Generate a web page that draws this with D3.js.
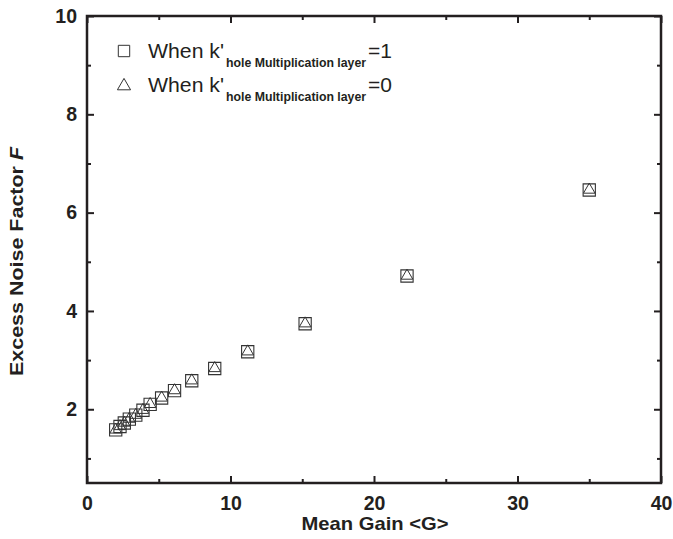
<!DOCTYPE html>
<html>
<head>
<meta charset="utf-8">
<script src="https://cdn.jsdelivr.net/npm/d3@7"></script>
<style>
  body { margin: 0; background: #fff; }
  text { font-family: Arial, "Liberation Sans", sans-serif; }
</style>
</head>
<body>
<div class="chart"></div>
<script>
var svgWidth = 673;
var svgHeight = 539;

var margin = {top: 16, right: 12, bottom: 56, left: 87};

var width = svgWidth - margin.left - margin.right;
var height = svgHeight - margin.top - margin.bottom;

// data
var gain = [2.0, 2.3, 2.6, 2.95, 3.4, 3.9, 4.4, 5.2, 6.1, 7.3, 8.9, 11.2, 15.2, 22.3, 35.0];
var fK1 = [1.58, 1.65, 1.72, 1.80, 1.88, 1.98, 2.10, 2.23, 2.38, 2.58, 2.83, 3.17, 3.74, 4.71, 6.46];
var fK0 = [1.60, 1.67, 1.74, 1.82, 1.90, 2.00, 2.12, 2.25, 2.40, 2.60, 2.85, 3.19, 3.76, 4.73, 6.48];
var xTicks = [0, 10, 20, 30, 40];
var yTicks = [2, 4, 6, 8, 10];
var legendLabels = ['=1', '=0'];

var svg = d3
  .select('.chart')
  .append('svg')
  .attr('width', svgWidth)
  .attr('height', svgHeight)
  .append('g')
  .attr('transform', 'translate(' + margin.left + ',' + margin.top + ')');

var x = d3.scaleLinear().domain([0, 40]).range([0, width]);
var y = d3.scaleLinear().domain([0.5, 10]).range([height, 0]);

var axisColor = '#231f20';

function styleAxis(g) {
  g.select('.domain').remove();
  g.selectAll('line').attr('stroke', axisColor).attr('stroke-width', 2);
  g.selectAll('text')
    .attr('fill', axisColor)
    .style('font-size', '19.5px')
    .style('font-weight', 'bold');
}

// major + minor ticks, pointing inward
var xMinor = d3.range(5, 40, 10);
var yMinor = d3.range(1, 10, 2);

svg.append('g')
  .attr('transform', 'translate(0,' + height + ')')
  .call(d3.axisBottom(x).tickValues(xTicks).tickSize(-7).tickPadding(13))
  .call(styleAxis);
svg.append('g')
  .attr('transform', 'translate(0,' + height + ')')
  .call(d3.axisBottom(x).tickValues(xMinor).tickSize(-4).tickFormat(''))
  .call(styleAxis);
svg.append('g')
  .call(d3.axisTop(x).tickValues(xTicks).tickSize(-7).tickFormat(''))
  .call(styleAxis);
svg.append('g')
  .call(d3.axisTop(x).tickValues(xMinor).tickSize(-4).tickFormat(''))
  .call(styleAxis);

svg.append('g')
  .call(d3.axisLeft(y).tickValues(yTicks).tickSize(-7).tickPadding(10))
  .call(styleAxis);
svg.append('g')
  .call(d3.axisLeft(y).tickValues(yMinor).tickSize(-4).tickFormat(''))
  .call(styleAxis);
svg.append('g')
  .attr('transform', 'translate(' + width + ',0)')
  .call(d3.axisRight(y).tickValues(yTicks).tickSize(-7).tickFormat(''))
  .call(styleAxis);
svg.append('g')
  .attr('transform', 'translate(' + width + ',0)')
  .call(d3.axisRight(y).tickValues(yMinor).tickSize(-4).tickFormat(''))
  .call(styleAxis);

// frame
svg.append('rect')
  .attr('x', 0)
  .attr('y', 0)
  .attr('width', width)
  .attr('height', height)
  .attr('fill', 'none')
  .attr('stroke', axisColor)
  .attr('stroke-width', 2.5);

var sq = d3.symbol().type(d3.symbolSquare).size(150);
var tri = d3.symbol().type(d3.symbolTriangle).size(58);

var pts = svg.append('g');

pts.selectAll('.sq')
  .data(gain)
  .enter()
  .append('path')
  .attr('class', 'sq')
  .attr('d', sq)
  .attr('transform', function(d, i) {
    return 'translate(' + x(d) + ',' + y(fK1[i]) + ')';
  })
  .attr('fill', 'none')
  .attr('stroke', '#333')
  .attr('stroke-width', 1.1);

pts.selectAll('.tri')
  .data(gain)
  .enter()
  .append('path')
  .attr('class', 'tri')
  .attr('d', tri)
  .attr('transform', function(d, i) {
    return 'translate(' + x(d) + ',' + (y(fK0[i]) + 0.8) + ')';
  })
  .attr('fill', 'none')
  .attr('stroke', '#333')
  .attr('stroke-width', 1);

// legend
var legend = svg.append('g').attr('transform', 'translate(37,35)');
var legendRows = legend.selectAll('g')
  .data(legendLabels)
  .enter()
  .append('g')
  .attr('transform', function(d, i) {
    return 'translate(0,' + i * 34 + ')';
  });

legendRows.append('path')
  .attr('d', function(d, i) {
    return i === 0 ? d3.symbol().type(d3.symbolSquare).size(130)() : d3.symbol().type(d3.symbolTriangle).size(75)();
  })
  .attr('transform', function(d, i) {
    return i === 0 ? 'translate(0,0)' : 'translate(0,1)';
  })
  .attr('fill', 'none')
  .attr('stroke', '#333')
  .attr('stroke-width', 1);

legendRows.append('text')
  .attr('x', 24)
  .attr('y', 7)
  .attr('fill', axisColor)
  .attr('textLength', 76)
  .attr('lengthAdjust', 'spacingAndGlyphs')
  .style('font-size', '20px')
  .text("When k'");

legendRows.append('text')
  .attr('x', 102)
  .attr('y', 16)
  .attr('fill', axisColor)
  .style('font-size', '12.3px')
  .style('font-weight', 'bold')
  .text('hole Multiplication layer');

legendRows.append('text')
  .attr('x', 244)
  .attr('y', 7)
  .attr('fill', axisColor)
  .style('font-size', '21px')
  .text(function(d) { return d; });

// y-axis label
svg.append('text')
  .attr('transform', 'rotate(-90)')
  .attr('x', -height / 2 - 12)
  .attr('y', -64)
  .attr('text-anchor', 'middle')
  .attr('fill', axisColor)
  .attr('textLength', 229)
  .attr('lengthAdjust', 'spacingAndGlyphs')
  .style('font-size', '19px')
  .style('font-weight', 'bold')
  .html('Excess Noise Factor <tspan font-style="italic">F</tspan>');

// x-axis label
svg.append('text')
  .attr('x', 375 - margin.left)
  .attr('y', height + 47)
  .attr('text-anchor', 'middle')
  .attr('fill', axisColor)
  .attr('textLength', 147)
  .attr('lengthAdjust', 'spacingAndGlyphs')
  .style('font-size', '19px')
  .style('font-weight', 'bold')
  .text('Mean Gain <G>');
</script>
</body>
</html>
